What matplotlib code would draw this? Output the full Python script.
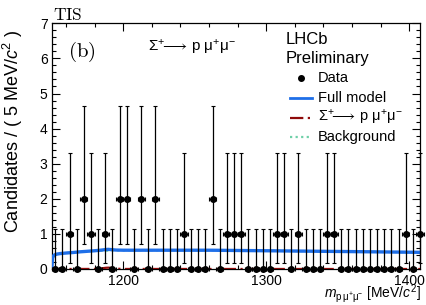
import numpy as np
import matplotlib
matplotlib.use("Agg")
import matplotlib.pyplot as plt
from matplotlib.lines import Line2D
from matplotlib.ticker import MultipleLocator

plt.rcParams['font.family'] = ['Liberation Sans', 'DejaVu Sans']
plt.rcParams['mathtext.fontset'] = 'custom'
plt.rcParams['mathtext.rm'] = 'Liberation Sans'
plt.rcParams['mathtext.it'] = 'Liberation Sans:italic'
plt.rcParams['mathtext.bf'] = 'Liberation Sans:bold'

# ---------------- data ----------------
bin_centers = np.arange(1152.5, 1410, 5.0)
counts = [0, 0, 1, 0, 2, 1, 0, 1, 0, 2,
          2, 0, 2, 0, 2, 0, 0, 0, 1, 0,
          0, 0, 2, 0, 1, 1, 1, 0, 0, 0,
          0, 1, 1, 0, 1, 0, 0, 0, 1, 1,
          0, 0, 0, 0, 0, 0, 0, 0, 0, 1,
          0, 1]

# Full model curve
model_x = [1150.0, 1150.6, 1151.5, 1153, 1156, 1160, 1165, 1170, 1175, 1180,
           1184, 1187, 1189.5, 1192, 1195, 1200, 1210, 1230, 1260, 1300,
           1350, 1407.5]
model_y = [0.0, 0.32, 0.39, 0.42, 0.44, 0.455, 0.47, 0.49, 0.505, 0.52,
           0.535, 0.55, 0.56, 0.55, 0.54, 0.535, 0.535, 0.535, 0.535, 0.52,
           0.50, 0.475]
# Signal component
sig_x = [1150, 1180, 1183, 1186, 1188, 1189.5, 1191, 1193, 1196, 1200, 1407.5]
sig_y = [0.0, 0.002, 0.01, 0.025, 0.035, 0.038, 0.035, 0.022, 0.008, 0.001, 0.0]
# Background component
bkg_x = [1150.0, 1150.6, 1151.5, 1153, 1156, 1160, 1165, 1170, 1175, 1180,
         1184, 1187, 1189.5, 1192, 1195, 1200, 1210, 1230, 1260, 1300,
         1350, 1407.5]
bkg_y = [0.0, 0.32, 0.39, 0.42, 0.44, 0.455, 0.47, 0.49, 0.505, 0.518,
         0.525, 0.522, 0.522, 0.53, 0.532, 0.534, 0.535, 0.535, 0.535, 0.52,
         0.50, 0.475]

# Poisson (ROOT) asymmetric error bars
err_lo_tab = {0: 0.0, 1: 0.8274, 2: 1.2918}
err_hi_tab = {0: 1.1479, 1: 2.2994, 2: 2.6378}
counts_arr = np.array(counts, dtype=float)
err_lo = np.array([err_lo_tab[c] for c in counts])
err_hi = np.array([err_hi_tab[c] for c in counts])

xlim = (1150, 1407.5)
ylim = (0, 7)

W, H = 426, 305
fig = plt.figure(figsize=(W / 100, H / 100), dpi=100)
x0, x1, ytop, ybot = 51.7, 420.0, 23.3, 269.0
ax = fig.add_axes([x0 / W, 1 - ybot / H, (x1 - x0) / W, (ybot - ytop) / H])

blue = '#1f6fe8'
red = '#8f0a0a'
teal = '#6fd0a8'

ax.plot(bkg_x, bkg_y, color=teal, lw=1.6, ls=(0, (1, 1.5)), zorder=2)
ax.plot(model_x, model_y, color=blue, lw=2.4, zorder=3)
ax.plot(sig_x, sig_y, color=red, lw=1.6, ls=(0, (6, 2, 1, 2)), zorder=4)

ax.errorbar(bin_centers, counts_arr, yerr=[err_lo, err_hi], xerr=2.5,
            fmt='o', color='black', ms=4.0, elinewidth=0.9, capsize=1.2,
            capthick=0.8, zorder=5, clip_on=False)

ax.set_xlim(*xlim)
ax.set_ylim(*ylim)
ax.xaxis.set_major_locator(MultipleLocator(100))
ax.xaxis.set_minor_locator(MultipleLocator(20))
ax.yaxis.set_major_locator(MultipleLocator(1))
ax.yaxis.set_minor_locator(MultipleLocator(0.2))
ax.tick_params(which='both', direction='in', top=True, right=True,
               labelsize=10, width=0.8, colors='black')
ax.tick_params(which='major', length=6)
ax.tick_params(which='minor', length=3)
ax.tick_params(axis='x', which='major', pad=3.5)
ax.tick_params(axis='y', which='major', pad=3)
for s in ax.spines.values():
    s.set_linewidth(0.9)

sig_label = r'$\Sigma^{+}\!\!\longrightarrow\,\mathrm{p}\ \mathrm{\mu}^{+}\mathrm{\mu}^{-}$'

# axis titles
fig.text(13 / W, 1 - 131 / H, r'Candidates / ( 5 MeV/$c^{2}$ )', rotation=90,
         ha='center', va='center', fontsize=13)
fig.text(421 / W, 1 - 298 / H,
         r'$m_{\mathrm{p}\,\mathrm{\mu}^{+}\mathrm{\mu}^{-}}$ [MeV/$c^{2}$]',
         ha='right', va='baseline', fontsize=10)

# annotations
fig.text(53 / W, 1 - 20 / H, r'$\mathrm{TIS}$', math_fontfamily='cm',
         ha='left', va='baseline', fontsize=12.5)
fig.text(68 / W, 1 - 57 / H, r'$\mathrm{(b)}$', math_fontfamily='cm',
         ha='left', va='baseline', fontsize=15)
fig.text(148 / W, 1 - 52 / H, sig_label, ha='left', va='baseline', fontsize=11)

# legend (manual)
fig.text(286 / W, 1 - 39 / H, 'LHCb', ha='left', va='center', fontsize=12)
fig.text(286 / W, 1 - 58 / H, 'Preliminary', ha='left', va='center', fontsize=12)
leg_y = [78.3, 98.0, 117.7, 137.0]
leg_txt = ['Data', 'Full model', sig_label, 'Background']
hx0, hx1, tx = 290.3 / W, 312.3 / W, 318 / W
fig.add_artist(Line2D([301 / W], [1 - leg_y[0] / H], marker='o', ms=4.0,
                      color='black', ls='none'))
fig.add_artist(Line2D([hx0, hx1], [1 - leg_y[1] / H] * 2, color=blue, lw=2.0))
fig.add_artist(Line2D([hx0, hx1], [1 - leg_y[2] / H] * 2, color=red, lw=1.6,
                      ls=(0, (6, 2, 1, 2))))
fig.add_artist(Line2D([hx0, hx1], [1 - leg_y[3] / H] * 2, color=teal, lw=1.6,
                      ls=(0, (1, 1.5))))
for yy, tt in zip(leg_y, leg_txt):
    fig.text(tx, 1 - yy / H, tt, ha='left', va='center', fontsize=10.5)

fig.savefig('out.png', dpi=100)
